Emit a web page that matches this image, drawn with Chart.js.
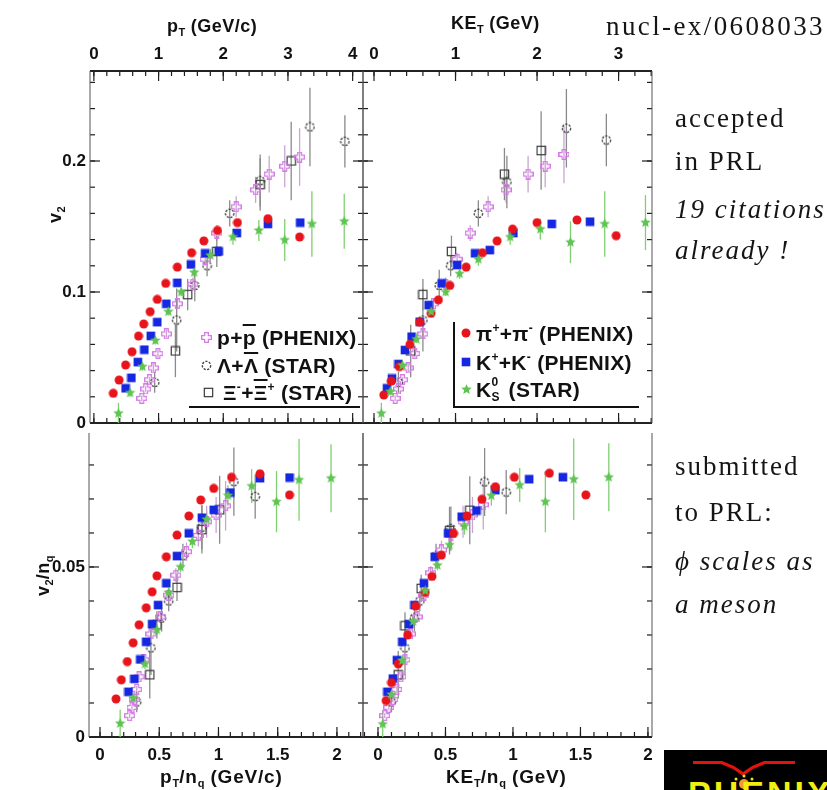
<!DOCTYPE html>
<html>
<head>
<meta charset="utf-8">
<title>v2 scaling of identified hadrons</title>
<script src="https://cdn.jsdelivr.net/npm/chart.js@4.4.1/dist/chart.umd.min.js"></script>
<style>
  html, body { margin: 0; padding: 0; background: #fff; }
  #page { position: relative; width: 827px; height: 790px; overflow: hidden;
          font-family: 'Liberation Sans', Arial, sans-serif; color: #111; }
  #page canvas.panel { position: absolute; top: 0; pointer-events: none; }
  .ax { position: absolute; font-weight: bold; font-size: 18px; line-height: 18px; letter-spacing: 0.5px; white-space: nowrap; }
  .ax.big { font-size: 19px; letter-spacing: 0.8px; }
  .ax sub { font-size: 11px; vertical-align: -4px; line-height: 0; letter-spacing: 0; }
  .rot { transform-origin: 0 0; transform: rotate(-90deg); }
  .leg { position: absolute; font-weight: bold; font-size: 21px; line-height: 21px; letter-spacing: 0.3px; white-space: nowrap; }
  .leg sup { font-size: 12px; vertical-align: 9px; line-height: 0; }
  .leg .ss { display: inline-block; position: relative; width: 11px; height: 21px; vertical-align: top; }
  .leg .ss b { position: absolute; left: 0; font-size: 12px; line-height: 12px; }
  .ov { text-decoration: overline; }
  .icon { position: absolute; }
  .rule { position: absolute; background: #111; }
  .note { position: absolute; font-family: 'Liberation Serif', 'DejaVu Serif', serif; font-size: 27px;
          line-height: 27px; letter-spacing: 2px; white-space: nowrap; color: #151515; }
  .note.it { font-style: italic; }
  #logo { position: absolute; left: 664px; top: 750px; width: 163px; height: 40px; background: #000; overflow: hidden; }
</style>
</head>
<body>
<div id="page">
  <canvas id="c-pt" class="panel"></canvas>
  <canvas id="c-ket" class="panel"></canvas>
  <canvas id="c-ptnq" class="panel"></canvas>
  <canvas id="c-ketnq" class="panel"></canvas>

  <!-- axis titles -->
  <div class="ax" style="left:167px; top:17px;">p<sub>T</sub> (GeV/c)</div>
  <div class="ax" style="left:451px; top:14px;">KE<sub>T</sub> (GeV)</div>
  <div class="ax big" style="left:160px; top:768px;">p<sub>T</sub>/n<sub>q</sub> (GeV/c)</div>
  <div class="ax big" style="left:446px; top:768px;">KE<sub>T</sub>/n<sub>q</sub> (GeV)</div>
  <div class="ax rot" style="left:46px; top:223px;">v<sub>2</sub></div>
  <div class="ax rot" style="left:34px; top:596px;">v<sub>2</sub>/n<sub>q</sub></div>

  <!-- baryon legend -->
  <div class="leg" style="left:217px; top:327px;">p+<span class="ov">p</span> (PHENIX)</div>
  <div class="leg" style="left:217px; top:355px;">Λ+<span class="ov">Λ</span> (STAR)</div>
  <div class="leg" style="left:223px; top:382px;">Ξ<sup>-</sup>+<span class="ov">Ξ</span><sup>+</sup> (STAR)</div>
  <div class="rule" style="left:189px; top:406px; width:171px; height:2px;"></div>

  <!-- meson legend -->
  <div class="leg" style="left:476px; top:323px;">π<sup>+</sup>+π<sup>-</sup> (PHENIX)</div>
  <div class="leg" style="left:476px; top:352px;">K<sup>+</sup>+K<sup>-</sup> (PHENIX)</div>
  <div class="leg" style="left:476px; top:379px;">K<span class="ss"><b style="top:-3px">0</b><b style="top:12px">S</b></span> (STAR)</div>
  <div class="rule" style="left:453px; top:322px; width:2px; height:86px;"></div>
  <div class="rule" style="left:453px; top:406px; width:186px; height:2px;"></div>

  <!-- side notes -->
  <div class="note" style="left:606px; top:13px; letter-spacing:2.4px;">nucl-ex/0608033</div>
  <div class="note" style="left:675px; top:105px;">accepted</div>
  <div class="note" style="left:675px; top:148px;">in PRL</div>
  <div class="note it" style="left:675px; top:196px;">19 citations</div>
  <div class="note it" style="left:675px; top:237px;">already !</div>
  <div class="note" style="left:675px; top:453px;">submitted</div>
  <div class="note" style="left:675px; top:499px;">to PRL:</div>
  <div class="note it" style="left:675px; top:548px;">ϕ scales as</div>
  <div class="note it" style="left:675px; top:591px;">a meson</div>

  <div id="logo">
    <svg width="163" height="40" xmlns="http://www.w3.org/2000/svg">
      <polygon fill="#e3120f" points="29,11 58,11 70,16 79,22 88,16 100,11 131,11 131,14 101,14 89,19 79,26 69,19 57,14 29,14"/>
      <circle cx="80" cy="34" r="5" fill="#f39a2b"/>
      <circle cx="72" cy="29" r="1.5" fill="#f2e21a"/>
      <circle cx="88" cy="29" r="1.5" fill="#f2e21a"/>
      <circle cx="80" cy="26" r="1.5" fill="#f2e21a"/>
      <text x="24" y="55" fill="#f2ee10" font-family="Liberation Sans, Arial" font-weight="bold" font-size="34" letter-spacing="3">PHENIX</text>
    </svg>
  </div>
</div>

<script>
// ---------- v2 vs pT (upper left) ----------
const ptPi  = [0.30, 0.39, 0.49, 0.59, 0.69, 0.77, 0.87, 0.98, 1.11, 1.29, 1.51, 1.70, 1.91, 2.22, 2.69, 3.18];
const v2Pi  = [0.0227, 0.0328, 0.0443, 0.0544, 0.0664, 0.0756, 0.0850, 0.0944, 0.1066, 0.1190, 0.1300, 0.1390, 0.1470, 0.1530, 0.1560, 0.1420];
const ptK   = [0.49, 0.58, 0.68, 0.78, 0.88, 0.98, 1.12, 1.29, 1.50, 1.72, 1.93, 2.21, 2.69, 3.19];
const v2K   = [0.0265, 0.0345, 0.0465, 0.0560, 0.0665, 0.0770, 0.0910, 0.1070, 0.1210, 0.1295, 0.1310, 0.1450, 0.1520, 0.1530];
const ptK0s = [0.38, 0.56, 0.75, 0.95, 1.15, 1.35, 1.55, 1.80, 2.15, 2.55, 2.95, 3.37, 3.87];
const v2K0s = [0.0074, 0.0230, 0.0430, 0.0630, 0.0850, 0.1000, 0.1150, 0.1280, 0.1420, 0.1470, 0.1397, 0.1520, 0.1540];
const v2K0sErr = [0.008, 0.003, 0.003, 0.003, 0.003, 0.003, 0.004, 0.005, 0.006, 0.008, 0.016, 0.025, 0.021];
const ptP   = [0.74, 0.80, 0.86, 0.92, 0.99, 1.12, 1.29, 1.53, 1.72, 1.90, 2.20, 2.50, 2.71, 2.95, 3.18];
const v2P   = [0.0188, 0.0260, 0.0330, 0.0420, 0.0530, 0.0680, 0.0910, 0.1060, 0.1250, 0.1450, 0.1650, 0.1780, 0.1900, 0.1960, 0.2030];
const v2PErr = [0.002, 0.002, 0.002, 0.003, 0.003, 0.003, 0.004, 0.005, 0.005, 0.006, 0.008, 0.010, 0.014, 0.016, 0.022];
const ptLam = [0.94, 1.28, 1.56, 1.75, 2.10, 2.57, 3.34, 3.88];
const v2Lam = [0.0310, 0.0786, 0.1050, 0.1200, 0.1600, 0.1850, 0.2260, 0.2150];
const v2LamErr = [0.008, 0.024, 0.012, 0.008, 0.010, 0.020, 0.030, 0.020];
const ptXi  = [1.26, 1.45, 1.90, 2.57, 3.05];
const v2Xi  = [0.0550, 0.0980, 0.1310, 0.1820, 0.2000];
const v2XiErr = [0.020, 0.012, 0.012, 0.020, 0.030];

// ---------- v2 vs KE_T (upper right) ----------
const ketPi  = [0.12, 0.21, 0.31, 0.44, 0.56, 0.70, 0.79, 0.93, 1.13, 1.33, 1.51, 1.70, 2.00, 2.49, 2.97];
const v2PiKet = [0.0214, 0.0320, 0.0430, 0.0600, 0.0770, 0.0837, 0.0940, 0.1050, 0.1190, 0.1300, 0.1390, 0.1480, 0.1530, 0.1550, 0.1430];
const ketK   = [0.16, 0.22, 0.30, 0.38, 0.46, 0.56, 0.67, 0.83, 1.02, 1.24, 1.42, 1.71, 2.18, 2.65];
const v2KKet = [0.0265, 0.0340, 0.0450, 0.0557, 0.0659, 0.0773, 0.0900, 0.1066, 0.1206, 0.1295, 0.1320, 0.1450, 0.1520, 0.1537];
const ketK0s = [0.09, 0.20, 0.35, 0.52, 0.70, 0.88, 1.05, 1.28, 1.67, 2.04, 2.41, 2.83, 3.33];
const v2K0sKet = [0.0074, 0.0240, 0.0440, 0.0640, 0.0850, 0.1000, 0.1140, 0.1250, 0.1420, 0.1480, 0.1380, 0.1520, 0.1530];
const ketP   = [0.26, 0.30, 0.35, 0.42, 0.50, 0.60, 0.73, 0.88, 1.02, 1.18, 1.40, 1.62, 1.89, 2.10, 2.33];
const v2PKet = [0.0188, 0.0260, 0.0330, 0.0420, 0.0530, 0.0680, 0.0910, 0.1060, 0.1250, 0.1450, 0.1650, 0.1780, 0.1900, 0.1960, 0.2050];
const ketLam = [0.30, 0.60, 0.80, 0.94, 1.28, 1.63, 2.36, 2.85];
const v2LamKet = [0.0310, 0.0786, 0.1050, 0.1200, 0.1600, 0.1840, 0.2250, 0.2160];
const ketXi  = [0.45, 0.60, 0.95, 1.60, 2.05];
const v2XiKet = [0.0550, 0.0980, 0.1310, 0.1900, 0.2080];

// ---------- v2/nq vs pT/nq (lower left) ----------
const ptNqPi  = [0.135, 0.18, 0.23, 0.28, 0.33, 0.39, 0.44, 0.48, 0.56, 0.65, 0.75, 0.85, 0.96, 1.11, 1.35, 1.60];
const v2NqPi  = [0.0112, 0.0168, 0.0222, 0.0277, 0.0330, 0.0380, 0.0427, 0.0474, 0.0530, 0.0594, 0.0650, 0.0697, 0.0731, 0.0764, 0.0774, 0.0712];
const ptNqK   = [0.24, 0.29, 0.34, 0.39, 0.44, 0.49, 0.56, 0.65, 0.75, 0.86, 0.96, 1.10, 1.35, 1.60];
const v2NqK   = [0.0133, 0.0171, 0.0228, 0.0280, 0.0332, 0.0388, 0.0452, 0.0532, 0.0599, 0.0645, 0.0668, 0.0719, 0.0761, 0.0763];
const ptNqK0s = [0.17, 0.28, 0.38, 0.48, 0.58, 0.68, 0.78, 0.90, 1.08, 1.28, 1.49, 1.68, 1.95];
const v2NqK0s = [0.0040, 0.0115, 0.0215, 0.0315, 0.0425, 0.0500, 0.0575, 0.0640, 0.0710, 0.0738, 0.0692, 0.0756, 0.0761];
const v2NqK0sErr = [0.004, 0.0015, 0.0015, 0.0015, 0.0015, 0.0015, 0.002, 0.0025, 0.003, 0.005, 0.009, 0.012, 0.010];
const ptNqP   = [0.25, 0.27, 0.29, 0.31, 0.33, 0.37, 0.43, 0.51, 0.58, 0.64, 0.73, 0.83, 0.90, 0.98, 1.06];
const v2NqP   = [0.0063, 0.0087, 0.0110, 0.0140, 0.0177, 0.0227, 0.0303, 0.0353, 0.0417, 0.0476, 0.0545, 0.0593, 0.0633, 0.0653, 0.0680];
const v2NqPErr = [0.0007, 0.0007, 0.0007, 0.001, 0.001, 0.001, 0.0013, 0.0017, 0.0017, 0.002, 0.0027, 0.0033, 0.0047, 0.0053, 0.0073];
const ptNqLam = [0.31, 0.43, 0.52, 0.58, 0.70, 0.86, 1.13, 1.31];
const v2NqLam = [0.0103, 0.0262, 0.0350, 0.0400, 0.0533, 0.0617, 0.0751, 0.0707];
const v2NqLamErr = [0.003, 0.008, 0.004, 0.003, 0.0035, 0.0065, 0.010, 0.0065];
const ptNqXi  = [0.42, 0.48, 0.65, 0.86, 1.01];
const v2NqXi  = [0.0183, 0.0330, 0.0440, 0.0610, 0.0668];
const v2NqXiErr = [0.007, 0.004, 0.004, 0.007, 0.010];

// ---------- v2/nq vs KE_T/nq (lower right) ----------
const ketNqPi  = [0.06, 0.10, 0.15, 0.22, 0.28, 0.35, 0.40, 0.47, 0.56, 0.66, 0.77, 0.87, 1.01, 1.27, 1.54];
const v2NqPiKet = [0.0107, 0.0160, 0.0215, 0.0300, 0.0385, 0.0425, 0.0472, 0.0535, 0.0599, 0.0650, 0.0699, 0.0736, 0.0764, 0.0776, 0.0712];
const ketNqK   = [0.07, 0.11, 0.14, 0.18, 0.23, 0.27, 0.34, 0.42, 0.52, 0.62, 0.73, 0.87, 1.12, 1.37];
const v2NqKKet = [0.0133, 0.0172, 0.0226, 0.0280, 0.0332, 0.0388, 0.0452, 0.0530, 0.0599, 0.0648, 0.0666, 0.0726, 0.0758, 0.0764];
const ketNqK0s = [0.035, 0.10, 0.18, 0.26, 0.35, 0.44, 0.53, 0.64, 0.84, 1.05, 1.24, 1.45, 1.71];
const v2NqK0sKet = [0.0038, 0.0125, 0.0225, 0.0340, 0.0430, 0.0505, 0.0565, 0.0620, 0.0710, 0.0741, 0.0692, 0.0758, 0.0764];
const ketNqP   = [0.05, 0.08, 0.11, 0.14, 0.17, 0.20, 0.24, 0.29, 0.34, 0.39, 0.47, 0.54, 0.63, 0.70, 0.78];
const v2NqPKet = [0.0063, 0.0087, 0.0110, 0.0140, 0.0177, 0.0227, 0.0303, 0.0353, 0.0417, 0.0483, 0.0550, 0.0593, 0.0633, 0.0653, 0.0683];
const ketNqLam = [0.10, 0.20, 0.27, 0.31, 0.43, 0.54, 0.79, 0.95];
const v2NqLamKet = [0.0103, 0.0262, 0.0350, 0.0400, 0.0533, 0.0613, 0.0750, 0.0720];
const ketNqXi  = [0.15, 0.20, 0.32, 0.53, 0.68];
const v2NqXiKet = [0.0183, 0.0327, 0.0437, 0.0607, 0.0667];

// ---------- tick labels ----------
const ptTicks    = [0, 1, 2, 3, 4];
const ketTicks   = [0, 1, 2, 3];
const nqTicks    = [0, 0.5, 1, 1.5, 2];
const v2Ticks    = [0, 0.1, 0.2];
const v2NqTicks  = [0, 0.05];

const PAGE_W = 827, PAGE_H = 790;

const COL = { pi: '#e8141c', k: '#1527e0', k0s: '#5fc452', p: '#d47be4', lam: '#3a3a3a', xi: '#3a3a3a' };
const ERR = { k0s: '#80cf72', p: '#c9a6d2', lam: '#8a8a8a', xi: '#8a8a8a' };

// marker glyphs, drawn once into small canvases
function marker(kind, s) {
  const c = document.createElement('canvas');
  c.width = s; c.height = s;
  const g = c.getContext('2d');
  const m = s / 2;
  if (kind === 'pi') {
    g.fillStyle = COL.pi;
    g.beginPath(); g.arc(m, m, s * 0.45, 0, Math.PI * 2); g.fill();
  } else if (kind === 'k') {
    g.fillStyle = COL.k;
    const h = s * 0.43;
    g.fillRect(m - h, m - h, 2 * h, 2 * h);
  } else if (kind === 'k0s') {
    g.fillStyle = COL.k0s;
    const R = s * 0.5, r = R * 0.45;
    g.beginPath();
    for (let i = 0; i < 10; i++) {
      const ang = -Math.PI / 2 + i * Math.PI / 5, rad = i % 2 ? r : R;
      g.lineTo(m + rad * Math.cos(ang), m + rad * Math.sin(ang));
    }
    g.closePath(); g.fill();
  } else if (kind === 'p') {
    g.strokeStyle = COL.p; g.lineWidth = 1.3;
    const a = s * 0.17, b = s * 0.44;
    const pts = [[-a,-b],[a,-b],[a,-a],[b,-a],[b,a],[a,a],[a,b],[-a,b],[-a,a],[-b,a],[-b,-a],[-a,-a]];
    g.beginPath();
    pts.forEach(([dx, dy]) => g.lineTo(m + dx, m + dy));
    g.closePath(); g.stroke();
  } else if (kind === 'lam') {
    g.strokeStyle = COL.lam; g.lineWidth = 1.3;
    g.setLineDash([2.2, 1.4]);
    g.beginPath(); g.arc(m, m, s * 0.38, 0, Math.PI * 2); g.stroke();
  } else if (kind === 'xi') {
    g.strokeStyle = COL.xi; g.lineWidth = 1.2;
    const h = s * 0.38;
    g.strokeRect(m - h, m - h, 2 * h, 2 * h);
  }
  return c;
}

const GLYPH = {
  pi: marker('pi', 10), k: marker('k', 10), k0s: marker('k0s', 11),
  p: marker('p', 11), lam: marker('lam', 11), xi: marker('xi', 11)
};

function series(kind, xs, ys, errs) {
  return {
    label: kind,
    data: xs.map((x, i) => ({ x: x, y: ys[i] })),
    errors: errs || null,
    errorColor: ERR[kind] || '#888',
    pointStyle: GLYPH[kind],
    pointRadius: 5,
    pointHoverRadius: 5
  };
}

// vertical error bars, drawn under the markers
const errorBars = {
  id: 'errorBars',
  beforeDatasetsDraw(chart) {
    const { ctx, chartArea: a } = chart;
    const ys = chart.scales.y;
    ctx.save();
    ctx.beginPath(); ctx.rect(a.left, a.top, a.right - a.left, a.bottom - a.top); ctx.clip();
    ctx.lineWidth = 1.3;
    chart.data.datasets.forEach((ds, i) => {
      if (!ds.errors) return;
      ctx.strokeStyle = ds.errorColor;
      chart.getDatasetMeta(i).data.forEach((pt, j) => {
        const e = ds.errors[j];
        if (!e) return;
        const v = ds.data[j].y;
        ctx.beginPath();
        ctx.moveTo(pt.x, ys.getPixelForValue(v + e));
        ctx.lineTo(pt.x, ys.getPixelForValue(v - e));
        ctx.stroke();
      });
    });
    ctx.restore();
  }
};

// frame with inward major/minor ticks on every side
const frameTicks = {
  id: 'frame',
  beforeDatasetsDraw(chart, args, o) {
    const { ctx, chartArea: a, scales: { x, y } } = chart;
    const steps = (s, step) => {
      const out = [];
      for (let v = Math.ceil(s.min / step - 1e-9) * step; v <= s.max + 1e-9; v += step) out.push(v);
      return out;
    };
    const line = (x0, y0, x1, y1) => { ctx.beginPath(); ctx.moveTo(x0, y0); ctx.lineTo(x1, y1); ctx.stroke(); };
    ctx.save();
    ctx.strokeStyle = '#1d1d1d';
    ctx.lineWidth = 1.2;
    steps(x, o.xMinor).forEach(v => {
      const px = x.getPixelForValue(v);
      if (o.edges.top) line(px, a.top, px, a.top + 5);
      line(px, a.bottom, px, a.bottom - 5);
    });
    o.xMajor.forEach(v => {
      const px = x.getPixelForValue(v);
      if (o.edges.top) line(px, a.top, px, a.top + 10);
      line(px, a.bottom, px, a.bottom - 10);
    });
    steps(y, o.yMinor).forEach(v => {
      const py = y.getPixelForValue(v);
      line(a.left, py, a.left + 5, py);
      line(a.right, py, a.right - 5, py);
    });
    o.yMajor.forEach(v => {
      const py = y.getPixelForValue(v);
      line(a.left, py, a.left + 10, py);
      line(a.right, py, a.right - 10, py);
    });
    ctx.strokeStyle = '#222';
    if (o.edges.top) { ctx.lineWidth = o.edges.top; line(a.left, a.top, a.right, a.top); }
    ctx.lineWidth = o.edges.bottom; line(a.left, a.bottom, a.right, a.bottom);
    ctx.strokeStyle = '#555';
    ctx.lineWidth = o.edges.side;
    line(a.left, a.top, a.left, a.bottom);
    line(a.right, a.top, a.right, a.bottom);
    ctx.restore();
  }
};

Chart.defaults.font.family = "'Liberation Sans', Arial, sans-serif";
Chart.defaults.font.weight = 'bold';
Chart.defaults.font.size = 17;
Chart.defaults.color = '#111';

const fmt = v => String(+Number(v).toFixed(3));

// each canvas starts at page x = ox; its left axis box is sized so the
// plot area lands on the page rectangle given in cfg.area
function panel(id, cfg) {
  const ox = cfg.offset || 0;
  const W = PAGE_W - ox;
  const a = cfg.area;
  const left = a.left - ox, right = a.right - ox;
  const xTop = cfg.xPos === 'top';
  const el = document.getElementById(id);
  el.width = W; el.height = PAGE_H;
  el.style.left = ox + 'px';
  return new Chart(el, {
    type: 'scatter',
    data: { datasets: cfg.sets },
    options: {
      responsive: false,
      animation: false,
      devicePixelRatio: 1,
      layout: { padding: { left: 0, right: W - right, top: xTop ? 0 : a.top, bottom: xTop ? PAGE_H - a.bottom : 0 } },
      plugins: { legend: { display: false }, tooltip: { enabled: false }, frame: cfg.frame },
      scales: {
        x: {
          type: 'linear', position: cfg.xPos, min: cfg.xMin, max: cfg.xMax,
          grid: { display: false, drawTicks: false }, border: { display: false },
          ticks: { padding: xTop ? 6 : 8, maxRotation: 0, autoSkip: false, callback: fmt },
          afterBuildTicks: s => { s.ticks = cfg.xTicks.map(v => ({ value: v })); },
          afterFit: s => { s.height = xTop ? a.top : PAGE_H - a.bottom; }
        },
        y: {
          type: 'linear', position: 'left', min: cfg.yMin, max: cfg.yMax,
          grid: { display: false, drawTicks: false }, border: { display: false },
          ticks: { display: !!cfg.yTicks, padding: 4, autoSkip: false, callback: fmt },
          afterBuildTicks: s => { s.ticks = (cfg.yTicks || []).map(v => ({ value: v })); },
          afterFit: s => { s.width = left; }
        }
      }
    },
    plugins: [frameTicks, errorBars]
  });
}

// upper left: v2 vs pT
panel('c-pt', {
  area: { left: 90, top: 71, right: 363, bottom: 423 },
  xPos: 'top', xMin: -0.06, xMax: 4.16, yMin: 0, yMax: 0.2687,
  xTicks: ptTicks, yTicks: v2Ticks,
  frame: { xMajor: ptTicks, xMinor: 0.2, yMajor: v2Ticks, yMinor: 0.02, edges: { top: 2, bottom: 2, side: 1 } },
  sets: [
    series('k0s', ptK0s, v2K0s, v2K0sErr),
    series('pi', ptPi, v2Pi),
    series('k', ptK, v2K),
    series('p', ptP, v2P, v2PErr),
    series('lam', ptLam, v2Lam, v2LamErr),
    series('xi', ptXi, v2Xi, v2XiErr)
  ]
});

// upper right: v2 vs KE_T
panel('c-ket', {
  offset: 353,
  area: { left: 363, top: 71, right: 652, bottom: 423 },
  xPos: 'top', xMin: -0.135, xMax: 3.41, yMin: 0, yMax: 0.2687,
  xTicks: ketTicks, yTicks: null,
  frame: { xMajor: ketTicks, xMinor: 0.2, yMajor: v2Ticks, yMinor: 0.02, edges: { top: 2, bottom: 2, side: 1 } },
  sets: [
    series('k0s', ketK0s, v2K0sKet, v2K0sErr),
    series('pi', ketPi, v2PiKet),
    series('k', ketK, v2KKet),
    series('p', ketP, v2PKet, v2PErr),
    series('lam', ketLam, v2LamKet, v2LamErr),
    series('xi', ketXi, v2XiKet, v2XiErr)
  ]
});

// lower left: v2/nq vs pT/nq
panel('c-ptnq', {
  area: { left: 89, top: 433, right: 363, bottom: 737 },
  xPos: 'bottom', xMin: -0.093, xMax: 2.22, yMin: 0, yMax: 0.0894,
  xTicks: nqTicks, yTicks: v2NqTicks,
  frame: { xMajor: nqTicks, xMinor: 0.1, yMajor: v2NqTicks, yMinor: 0.01, edges: { top: 0, bottom: 2, side: 1 } },
  sets: [
    series('k0s', ptNqK0s, v2NqK0s, v2NqK0sErr),
    series('pi', ptNqPi, v2NqPi),
    series('k', ptNqK, v2NqK),
    series('p', ptNqP, v2NqP, v2NqPErr),
    series('lam', ptNqLam, v2NqLam, v2NqLamErr),
    series('xi', ptNqXi, v2NqXi, v2NqXiErr)
  ]
});

// lower right: v2/nq vs KE_T/nq
panel('c-ketnq', {
  offset: 353,
  area: { left: 363, top: 433, right: 652, bottom: 737 },
  xPos: 'bottom', xMin: -0.111, xMax: 2.03, yMin: 0, yMax: 0.0894,
  xTicks: nqTicks, yTicks: null,
  frame: { xMajor: nqTicks, xMinor: 0.1, yMajor: v2NqTicks, yMinor: 0.01, edges: { top: 0, bottom: 2, side: 1 } },
  sets: [
    series('k0s', ketNqK0s, v2NqK0sKet, v2NqK0sErr),
    series('pi', ketNqPi, v2NqPiKet),
    series('k', ketNqK, v2NqKKet),
    series('p', ketNqP, v2NqPKet, v2NqPErr),
    series('lam', ketNqLam, v2NqLamKet, v2NqLamErr),
    series('xi', ketNqXi, v2NqXiKet, v2NqXiErr)
  ]
});

// legend glyphs next to the overlay text
[
  ['p', 206, 337], ['lam', 206, 365], ['xi', 208, 392],
  ['pi', 466, 333], ['k', 466, 362], ['k0s', 466, 389]
].forEach(([kind, cx, cy]) => {
  const src = GLYPH[kind];
  const c = document.createElement('canvas');
  c.width = src.width; c.height = src.height;
  c.className = 'icon';
  c.style.left = (cx - src.width / 2) + 'px';
  c.style.top = (cy - src.height / 2) + 'px';
  c.getContext('2d').drawImage(src, 0, 0);
  document.getElementById('page').appendChild(c);
});
</script>
</body>
</html>
